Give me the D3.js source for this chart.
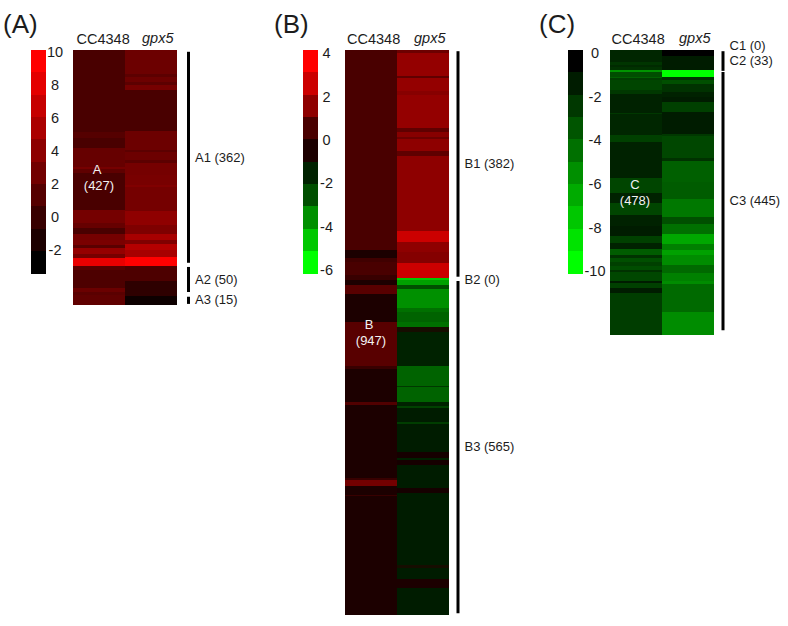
<!DOCTYPE html>
<html><head><meta charset="utf-8">
<script src="https://cdn.jsdelivr.net/npm/d3@7"></script>
<style>
html,body{margin:0;background:#fff}
svg{display:block}
text{font-family:"Liberation Sans",Arial,sans-serif;fill:#1c1c1c}
</style></head><body>
<svg id="chart" width="788" height="626"></svg>
<script>
// Heat-map runs: each break is the last gene row of a run, each value its log2 ratio.
const columns = ["CC4348", "gpx5"];

const aTotal = 427;
const aCcBreaks = [138,148,164,196,200,206,268,290,299,309,319,327,332,342,349,362,369,399,406,411,427];
const aCcValues = [.77,1.3,.67,2.2,3.0,1.8,.77,2.9,2.2,.77,2.9,3.2,1.6,4.6,3.0,9,1.6,1,2.4,1.6,1.9];
const aGpxBreaks = [40,45,54,59,67,136,168,171,185,190,210,227,230,270,294,309,319,326,336,347,362,388,413,427];
const aGpxValues = [2.5,1.7,2.5,1.7,3.0,.67,2.5,1.7,2.5,1.7,2.9,3.1,3.5,2.9,4.3,3.4,5.5,3.5,6.2,5.5,10,1,-.65,-2.2];
const aLegendValues = [10,8.6,7.1,5.7,4.2,2.8,1.3,-.1,-1.6,-3];
const aTicks = [10,8,6,4,2,0,-2];
const aGroups = ["A1 (362)","A2 (50)","A3 (15)"];
const aGroupRows = [[3,357],[364,406],[414,426]];

const bTotal = 947;
const bCcBreaks = [335,349,355,377,385,394,409,456,530,535,590,595,717,721,731,746,747,947];
const bCcValues = [1,.1,.8,.95,.6,.1,1.2,0,1.2,.6,0,1.1,0,.6,1.6,.1,.6,0];
const bGpxBreaks = [5,13,44,47,69,75,131,137,146,149,169,178,304,322,339,357,382,385,394,401,432,439,456,464,473,481,530,563,565,590,597,600,623,627,674,684,687,696,734,742,863,868,887,902,947];
const bGpxValues = [1.5,2.1,2.1,1.3,2.1,1.9,2.1,1.3,1.9,1.5,2,1.3,2,3,2,1.85,3,-4,-3.3,-2,-3,-2.5,-2.3,-2.5,-.3,-1,-1,-2.3,-1.5,-2.3,-1,-1.7,-.9,-1.6,-.85,-.2,-1,-.2,-.85,-.2,-.85,-.3,-.85,0,-.85];
const bLegendValues = [4,3,2,1,0,-1,-2,-3,-4,-5];
const bTicks = [4,2,0,-2,-4,-6];
const bGroups = ["B1 (382)","B2 (0)","B3 (565)"];
const bGroupRows = [[2,380],[387,944]];

const cTotal = 478;
const cCcBreaks = [20,25,29,34,37,45,47,50,67,74,106,107,143,154,215,240,257,277,282,295,312,324,334,344,349,356,362,369,372,387,391,399,408,478];
const cCcValues = [-1.5,-2.1,-1.6,-2,-5.8,-3,-3.8,-2.4,-2.7,-2.2,-1.4,-2.2,-1.45,-2.5,-1.4,-2.7,-1.4,-2.7,-1.3,-1.3,-1.1,-2.5,-1.3,-3.6,-1.9,-3.1,-2.5,-3,-1.9,-2.8,-1.2,-2.5,-1.1,-2.4];
const cGpxBreaks = [10,34,45,50,57,70,79,87,104,141,144,181,186,210,221,250,280,292,309,325,335,344,361,374,387,392,439,478];
const cGpxValues = [0,-1.1,-10,-1.9,-3.1,-2,-1.4,-1.1,-2.5,-1.1,-2.2,-2.8,-2,-3.8,-3.8,-3.6,-4.7,-3.1,-4.4,-6.6,-5,-6.3,-5.5,-4.1,-5,-5.5,-4.2,-5.5];
const cLegendValues = [0,-1.1,-2.2,-3.3,-4.4,-5.6,-6.7,-7.8,-8.9,-10];
const cTicks = [0,-2,-4,-6,-8,-10];
const cGroups = ["C1 (0)","C2 (33)","C3 (445)"];
const cGroupRows = [[2,35],[37,470]];

const aColor = d3.scaleLinear().domain([-3,10]).range(["#000000","#ff0000"]).clamp(true);
const bColor = d3.scaleLinear().domain(bLegendValues.slice().reverse())
  .range(["#00ff00","#00c800","#009000","#005000","#002000","#1a0000","#4a0000","#8e0000","#cc0000","#ff0000"]).clamp(true);
const cColor = d3.scaleLinear().domain([-10,0]).range(["#00ff00","#000000"]).clamp(true);

const svg = d3.select("#chart");
const defs = svg.append("defs");
defs.append("filter").attr("id","soft").attr("x","-5%").attr("y","-5%").attr("width","110%").attr("height","110%")
  .append("feGaussianBlur").attr("stdDeviation",0.6);

function panel(o){
  const g = svg.append("g");
  g.append("text").text(o.letter).attr("x",o.letterX).attr("y",33).attr("font-size",26);

  // colour key
  const keyY = d3.scaleBand().domain(d3.range(o.legend.length)).range([50,273.5]);
  g.append("g").attr("filter","url(#soft)").attr("shape-rendering","crispEdges").selectAll("rect").data(o.legend).join("rect")
    .attr("x",o.keyX).attr("width",15)
    .attr("y",(d,i)=>keyY(i)).attr("height",(d,i)=>keyY.bandwidth()+(i<o.legend.length-1?1:0))
    .attr("fill",d=>o.color(d));
  const tickY = d3.scaleLinear().domain(o.tickDomain).range(o.tickRange);
  const ax = g.append("g").attr("transform",`translate(${o.tickX},0)`)
    .call(d3.axisRight(tickY).tickValues(o.ticks).tickSize(0).tickPadding(0).tickFormat(String));
  ax.select(".domain").remove();
  ax.selectAll("text").attr("x",0).attr("text-anchor","middle").attr("font-size",14.5)
    .style("font-family",'"Liberation Sans",Arial,sans-serif').style("fill","#1c1c1c");

  // heat map
  const x = d3.scaleBand().domain(columns).range([o.mapX,o.mapX+104]);
  const y = d3.scaleLinear().domain([0,o.total]).range([50,o.mapBottom]);
  const heat = g.append("g").attr("filter","url(#soft)").attr("shape-rendering","crispEdges");
  columns.forEach((c,ci)=>{
    const br = o.breaks[ci], va = o.values[ci];
    heat.append("g").selectAll("rect").data(va).join("rect")
      .attr("x",x(c)).attr("width",x.bandwidth())
      .attr("y",(d,i)=>y(i?br[i-1]:0))
      .attr("height",(d,i)=>y(br[i])-y(i?br[i-1]:0)+(i<va.length-1?1:0))
      .attr("fill",d=>o.color(d));
  });

  // column headers
  g.append("text").text(columns[0]).attr("x",x(columns[0])+o.head0).attr("y",44).attr("font-size",14.5);
  g.append("text").text(columns[1]).attr("x",x(columns[1])+o.head1).attr("y",43).attr("font-size",14.5).attr("font-style","italic");

  // inner label
  g.append("text").text(o.inner[0]).attr("x",x(columns[0])+o.innerDx[0]).attr("y",o.innerY[0])
    .attr("text-anchor","middle").attr("font-size",13).style("fill","#f2f2f2");
  g.append("text").text(o.inner[1]).attr("x",x(columns[0])+o.innerDx[1]).attr("y",o.innerY[1])
    .attr("text-anchor","middle").attr("font-size",13).style("fill","#f2f2f2");

  // cluster brackets
  g.append("g").selectAll("line").data(o.groupRows).join("line")
    .attr("x1",o.bracketX).attr("x2",o.bracketX)
    .attr("y1",d=>y(d[0])).attr("y2",d=>y(d[1]))
    .attr("stroke","#000").attr("stroke-width",3);
  g.append("g").selectAll("text").data(o.groups).join("text")
    .text(d=>d).attr("x",o.bracketX+6.5).attr("y",(d,i)=>o.groupY[i])
    .attr("font-size",13);
}

panel({letter:"(A)",letterX:3,total:aTotal,color:aColor,legend:aLegendValues,keyX:31,
  ticks:aTicks,tickDomain:[10,-2],tickRange:[52,250],tickX:55,mapX:73,mapBottom:304.5,
  breaks:[aCcBreaks,aGpxBreaks],values:[aCcValues,aGpxValues],head0:3.5,head1:17,
  inner:["A","(427)"],innerDx:[24,26],innerY:[174,190],
  groups:aGroups,groupRows:aGroupRows,bracketX:188.5,groupY:[162,284,304]});

panel({letter:"(B)",letterX:274,total:bTotal,color:bColor,legend:bLegendValues,keyX:302.5,
  ticks:bTicks,tickDomain:[4,-6],tickRange:[53,270],tickX:326.5,mapX:345,mapBottom:615,
  breaks:[bCcBreaks,bGpxBreaks],values:[bCcValues,bGpxValues],head0:2,head1:17,
  inner:["B","(947)"],innerDx:[24,26],innerY:[329,345],
  groups:bGroups,groupRows:bGroupRows,bracketX:458,groupY:[168,284,451]});

panel({letter:"(C)",letterX:539,total:cTotal,color:cColor,legend:cLegendValues,keyX:568,
  ticks:cTicks,tickDomain:[0,-10],tickRange:[53,271],tickX:595,mapX:610,mapBottom:335,
  breaks:[cCcBreaks,cGpxBreaks],values:[cCcValues,cGpxValues],head0:1.5,head1:17,
  inner:["C","(478)"],innerDx:[25,25],innerY:[189,205],
  groups:cGroups,groupRows:cGroupRows,bracketX:723,groupY:[50,65,205]});
</script>
</body></html>
